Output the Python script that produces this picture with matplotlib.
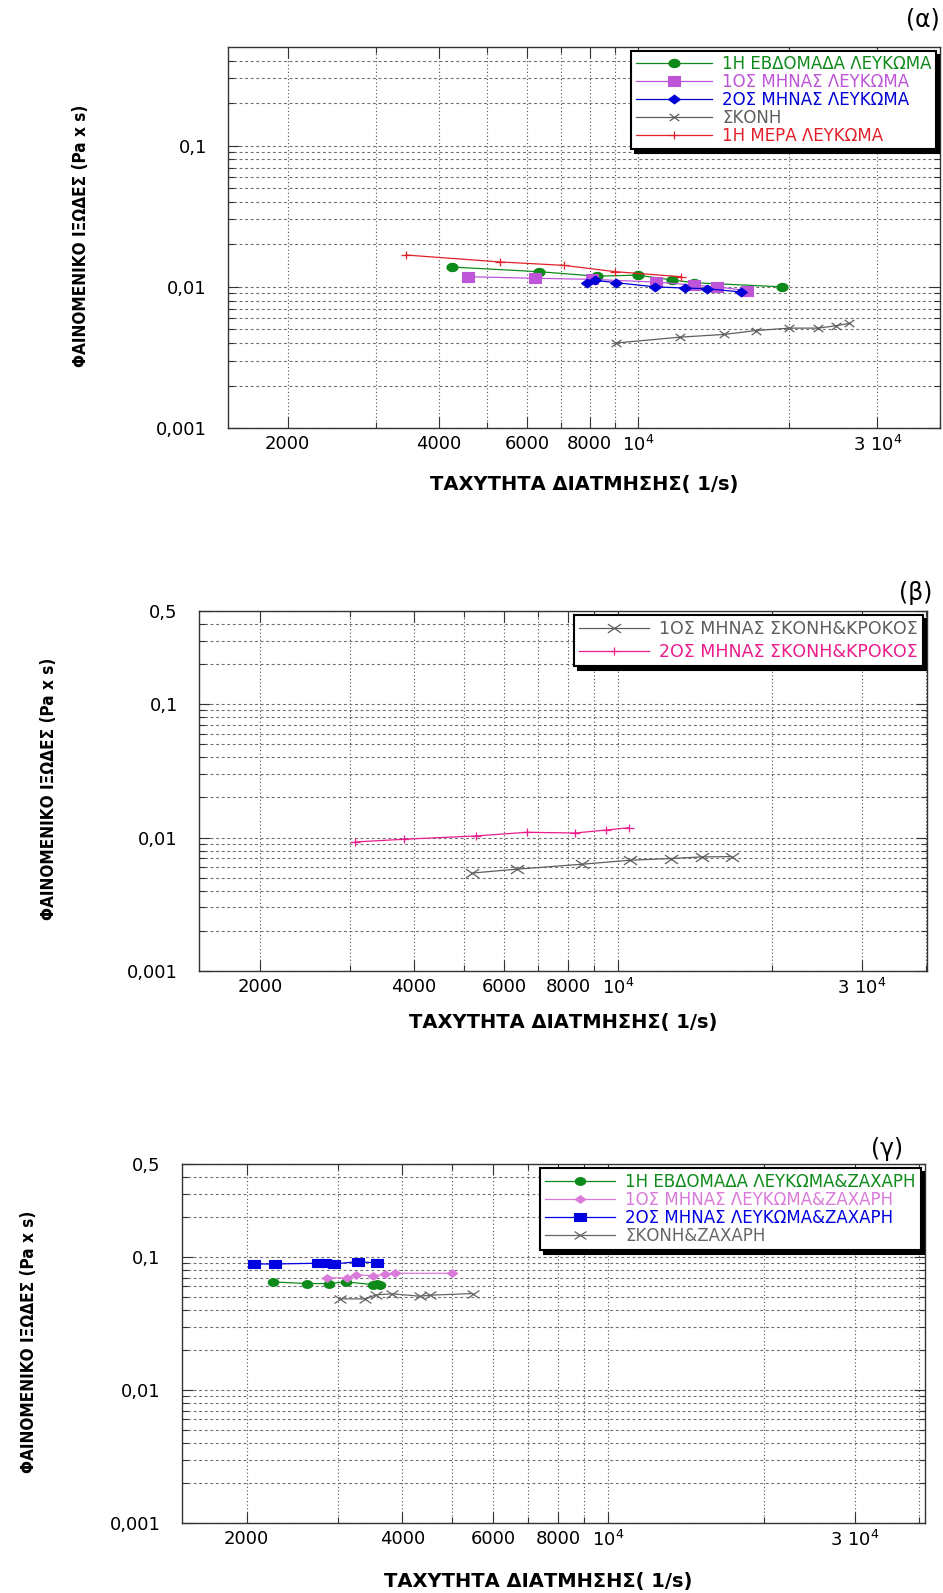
import numpy as np
import matplotlib
matplotlib.use("Agg")
import matplotlib.pyplot as plt
from matplotlib.path import Path
from matplotlib.ticker import FixedLocator, FixedFormatter, NullFormatter
from matplotlib import font_manager

plt.rcParams["font.family"] = ["DejaVu Sans"]
plt.rcParams["mathtext.default"] = "regular"

# ---------------- data ----------------
# (α) albumen samples of different ages and powder
a_week_x = [4260, 6350, 8260, 9970, 11670, 12900, 19330]
a_week_y = [0.0138, 0.0128, 0.0119, 0.0121, 0.0112, 0.0107, 0.0100]
a_month1_x = [4570, 6220, 8090, 10875, 12900, 14380, 16460]
a_month1_y = [0.0118, 0.0115, 0.0113, 0.0108, 0.0103, 0.0100, 0.0094]
a_month2_x = [7910, 8220, 9050, 10780, 12400, 13730, 16010]
a_month2_y = [0.0106, 0.0111, 0.0107, 0.0100, 0.0098, 0.0097, 0.0092]
a_powder_x = [9025, 12110, 14830, 17155, 20000, 22860, 24790, 26350]
a_powder_y = [0.0040, 0.0044, 0.0046, 0.0049, 0.0051, 0.0051, 0.0053, 0.0055]
a_day_x = [3445, 5310, 7100, 9010, 12150]
a_day_y = [0.0168, 0.0150, 0.0142, 0.0128, 0.0118]

# (β) powder with saffron
b_month1_x = [5180, 6350, 8530, 10570, 12690, 14630, 16700]
b_month1_y = [0.00542, 0.00580, 0.00632, 0.00677, 0.00697, 0.00717, 0.00721]
b_month2_x = [3070, 3820, 5280, 6640, 8250, 9500, 10520]
b_month2_y = [0.00928, 0.00972, 0.01029, 0.01096, 0.01083, 0.01140, 0.01187]

# (γ) albumen with sugar and powder with sugar
c_week_x = [2250, 2620, 2880, 3110, 3515, 3570, 3620]
c_week_y = [0.0649, 0.0631, 0.0631, 0.0649, 0.0620, 0.0627, 0.0617]
c_month1_x = [2855, 3120, 3250, 3505, 3700, 3870, 4985]
c_month1_y = [0.0696, 0.0696, 0.0733, 0.0724, 0.0741, 0.0754, 0.0754]
c_month2_x = [2070, 2270, 2745, 2835, 2950, 3280, 3570]
c_month2_y = [0.0886, 0.0886, 0.0897, 0.0897, 0.0886, 0.0923, 0.0902]
c_powder_x = [3030, 3390, 3555, 3825, 4330, 4525, 5470]
c_powder_y = [0.0484, 0.0484, 0.0519, 0.0528, 0.0507, 0.0516, 0.0531]

x_major = [2000, 4000, 6000, 8000, 10000, 30000]
x_major_labels = ["2000", "4000", "6000", "8000", r"$10^{4}$", r"3 $10^{4}$"]
x_minor = [3000, 5000, 7000, 9000, 20000, 40000]

y_minor = [m * d for d in (0.001, 0.01, 0.1) for m in range(2, 10) if m * d < 0.5]

# ---------------- markers (wide glyph shapes) ----------------
S = 1.35


def mk(kind, s=S):
    if kind == "o":
        t = np.linspace(0, 2 * np.pi, 41)
        return Path(np.column_stack([s * np.cos(t), np.sin(t)]), closed=True)
    if kind == "s":
        return Path([(-s, -1), (s, -1), (s, 1), (-s, 1), (-s, -1)], closed=True)
    if kind == "d":
        return Path([(0, -1), (s, 0), (0, 1), (-s, 0), (0, -1)], closed=True)
    if kind == "x":
        return Path([(-s, -1), (s, 1), (-s, 1), (s, -1)],
                    [Path.MOVETO, Path.LINETO, Path.MOVETO, Path.LINETO])
    if kind == "+":
        return Path([(-s, 0), (s, 0), (0, -1), (0, 1)],
                    [Path.MOVETO, Path.LINETO, Path.MOVETO, Path.LINETO])


def series(ax, x, y, color, kind, ms, label, s=S):
    open_marker = kind in ("x", "+")
    ax.plot(x, y, color=color, lw=0.9, marker=mk(kind, s), ms=ms,
            mfc="none" if open_marker else color, mec=color,
            mew=0.9 if open_marker else 0.8, label=label)


names = {f.name for f in font_manager.fontManager.ttflist}
if "Liberation Sans Narrow" in names:
    ylab_font = dict(family="Liberation Sans Narrow", weight="bold", size=14.4)
else:
    ylab_font = dict(family="DejaVu Sans", stretch="condensed", weight="bold", size=12.3)

fig = plt.figure(figsize=(9.43, 15.93), dpi=100)
W, H = 943.0, 1593.0


def make_axes(l, r, t, b, xlim, with_half):
    ax = fig.add_axes([l / W, 1 - b / H, (r - l) / W, (b - t) / H])
    ax.set_xscale("log")
    ax.set_yscale("log")
    ax.set_xlim(*xlim)
    ax.set_ylim(0.001, 0.5)
    ax.xaxis.set_major_locator(FixedLocator(x_major))
    ax.xaxis.set_major_formatter(FixedFormatter(x_major_labels))
    ax.xaxis.set_minor_locator(FixedLocator(x_minor))
    ax.xaxis.set_minor_formatter(NullFormatter())
    yt = [0.001, 0.01, 0.1] + ([0.5] if with_half else [])
    yl = ["0,001", "0,01", "0,1"] + (["0,5"] if with_half else [])
    ax.yaxis.set_major_locator(FixedLocator(yt))
    ax.yaxis.set_major_formatter(FixedFormatter(yl))
    ax.yaxis.set_minor_locator(FixedLocator(y_minor))
    ax.yaxis.set_minor_formatter(NullFormatter())
    ax.xaxis.grid(True, which="both", linestyle=(0, (1, 2.2)), color="#505050", lw=0.8)
    ax.yaxis.grid(True, which="both", linestyle=(0, (2.6, 2.4)), color="#707070", lw=0.8)
    ax.set_axisbelow(True)
    ax.tick_params(which="both", direction="in", top=True, right=True,
                   color="#333333", width=0.8)
    ax.tick_params(which="major", length=8)
    ax.tick_params(which="minor", length=4.5)
    ax.tick_params(axis="x", which="major", labelsize=13, pad=5)
    ax.tick_params(axis="y", which="major", labelsize=13, pad=15)
    for sp in ax.spines.values():
        sp.set_color("#333333")
        sp.set_linewidth(1.0)
    ax.set_ylabel("ΦΑΙΝΟΜΕΝΙΚΟ ΙΞΩΔΕΣ (Pa x s)", **ylab_font)
    ax.yaxis.set_label_coords(-0.193, 0.505)
    ax.set_xlabel("ΤΑΧΥΤΗΤΑ ΔΙΑΤΜΗΣΗΣ( 1/s)", fontsize=14, fontweight="bold")
    return ax


def legend(ax, fs, spacing, pad, hlen):
    kw = dict(loc="upper right", bbox_to_anchor=(1.0, 1.0), fontsize=fs,
              labelspacing=spacing, borderpad=pad, borderaxespad=0.25,
              handlelength=hlen, handletextpad=0.6, numpoints=1,
              fancybox=False, framealpha=1, edgecolor="black",
              labelcolor="linecolor")
    try:
        lg = ax.legend(shadow={"ox": 2.5, "oy": -2.5, "color": "black", "alpha": 1}, **kw)
    except Exception:
        lg = ax.legend(shadow=True, **kw)
    lg.get_frame().set_linewidth(1.5)
    return lg


# ---- (α) ----
ax1 = make_axes(227.7, 940, 47, 428, (1518, 40000), False)
series(ax1, a_week_x, a_week_y, "#0E8A1A", "o", 8, "1Η ΕΒΔΟΜΑΔΑ ΛΕΥΚΩΜΑ")
series(ax1, a_month1_x, a_month1_y, "#BE55D8", "s", 9, "1ΟΣ ΜΗΝΑΣ ΛΕΥΚΩΜΑ")
series(ax1, a_month2_x, a_month2_y, "#0000D6", "d", 8.5, "2ΟΣ ΜΗΝΑΣ ΛΕΥΚΩΜΑ")
series(ax1, a_powder_x, a_powder_y, "#5E5E5E", "x", 7, "ΣΚΟΝΗ")
series(ax1, a_day_x, a_day_y, "#E2202A", "+", 7.5, "1Η ΜΕΡΑ ΛΕΥΚΩΜΑ")
legend(ax1, 12, 0.0, 0.25, 4.6)
ax1.xaxis.set_label_coords(0.5, -0.123)

# ---- (β) ----
ax2 = make_axes(198.6, 927, 611, 971, (1517, 40200), True)
series(ax2, b_month1_x, b_month1_y, "#5E5E5E", "x", 9.5, "1ΟΣ ΜΗΝΑΣ ΣΚΟΝΗ&ΚΡΟΚΟΣ", s=1.5)
series(ax2, b_month2_x, b_month2_y, "#EC1C8C", "+", 7, "2ΟΣ ΜΗΝΑΣ ΣΚΟΝΗ&ΚΡΟΚΟΣ", s=1.15)
legend(ax2, 12.5, 0.3, 0.28, 4.0)
ax2.xaxis.set_label_coords(0.5, -0.117)

# ---- (γ) ----
ax3 = make_axes(181.5, 925, 1164, 1523, (1496, 41000), True)
series(ax3, c_week_x, c_week_y, "#0E8A1A", "o", 7.5, "1Η ΕΒΔΟΜΑΔΑ ΛΕΥΚΩΜΑ&ΖΑΧΑΡΗ")
series(ax3, c_month1_x, c_month1_y, "#DA7ADA", "d", 7.5, "1ΟΣ ΜΗΝΑΣ ΛΕΥΚΩΜΑ&ΖΑΧΑΡΗ")
series(ax3, c_month2_x, c_month2_y, "#0000E0", "s", 8.7, "2ΟΣ ΜΗΝΑΣ ΛΕΥΚΩΜΑ&ΖΑΧΑΡΗ")
series(ax3, c_powder_x, c_powder_y, "#666666", "x", 8.5, "ΣΚΟΝΗ&ΖΑΧΑΡΗ", s=1.5)
legend(ax3, 12, 0.0, 0.3, 4.2)
ax3.xaxis.set_label_coords(0.48, -0.136)

# panel tags
for txt, xr, yc in (("(α)", 940, 19), ("(β)", 932, 593), ("(γ)", 903, 1149)):
    fig.text(xr / W, 1 - yc / H, txt, ha="right", va="center", fontsize=17)

fig.savefig("out.png", dpi=100)
